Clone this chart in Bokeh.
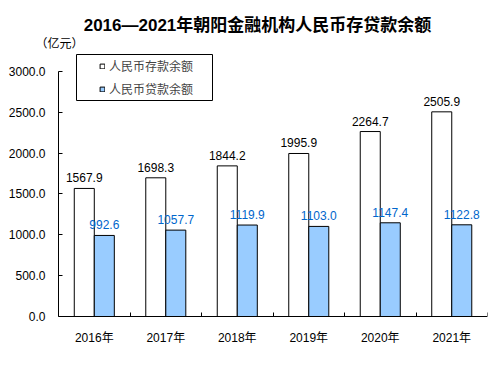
from bokeh.plotting import figure
from bokeh.models import (ColumnDataSource, FixedTicker, Range1d, LabelSet, Label,
                          Legend, LegendItem, BoxAnnotation)
from bokeh.core.properties import value
from bokeh.transform import dodge
from bokeh.embed import file_html
from bokeh.resources import INLINE

years = ["2016年", "2017年", "2018年", "2019年", "2020年", "2021年"]
deposits = [1567.9, 1698.3, 1844.2, 1995.9, 2264.7, 2505.9]
loans = [992.6, 1057.7, 1119.9, 1103.0, 1147.4, 1122.8]
y_ticks = [0, 500, 1000, 1500, 2000, 2500, 3000]

FONT = "Liberation Sans, Noto Sans CJK SC"

xpos = [i + 0.5 for i in range(len(years))]
src = ColumnDataSource(dict(
    x=xpos, dep=deposits, loan=loans,
    dep_lbl=[f"{v:.1f}" for v in deposits],
    loan_lbl=[f"{v:.1f}" for v in loans],
))

p = figure(width=503, height=370, output_backend="svg", toolbar_location=None,
           x_range=Range1d(-0.812, len(years)), y_range=Range1d(-661, 3869),
           min_border_left=0, min_border_right=16, min_border_top=0, min_border_bottom=0)
p.outline_line_color = None
p.grid.grid_line_color = None
p.background_fill_color = "white"

r_dep = p.vbar(x=dodge("x", -0.14, range=p.x_range), top="dep", bottom=0, width=0.28, source=src,
               fill_color="white", line_color="black", line_width=1)
r_loan = p.vbar(x=dodge("x", 0.14, range=p.x_range), top="loan", bottom=0, width=0.28, source=src,
                fill_color="#99CCFF", line_color="black", line_width=1)

p.add_layout(LabelSet(x=dodge("x", -0.14, range=p.x_range), y="dep", text="dep_lbl", source=src,
                      text_align="center", text_baseline="bottom", y_offset=6,
                      text_font=value(FONT), text_font_size=value("12px"), text_color="black"))
p.add_layout(LabelSet(x=dodge("x", 0.14, range=p.x_range), y="loan", text="loan_lbl", source=src,
                      text_align="center", text_baseline="bottom", y_offset=6,
                      text_font=value(FONT), text_font_size=value("12px"), text_color="#0066CC"))

# axes
xa = p.xaxis[0]
xa.fixed_location = 0
xa.ticker = FixedTicker(ticks=xpos, minor_ticks=list(range(1, len(years) + 1)))
xa.bounds = (0, len(years))
xa.major_label_overrides = {x: y for x, y in zip(xpos, years)}
xa.major_tick_line_color = None
xa.minor_tick_in = 4
xa.minor_tick_out = 0
xa.minor_tick_line_color = "black"
xa.axis_line_color = "black"
xa.major_label_standoff = 8
xa.major_label_text_font = FONT
xa.major_label_text_font_size = "12px"
xa.major_label_text_color = "black"

ya = p.yaxis[0]
ya.fixed_location = 0
ya.ticker = FixedTicker(ticks=y_ticks)
ya.bounds = (0, 3000)
ya.major_label_overrides = {t: f"{t:.1f}" for t in y_ticks}
ya.major_tick_in = 4
ya.major_tick_out = 0
ya.minor_tick_line_color = None
ya.axis_line_color = "black"
ya.major_tick_line_color = "black"
ya.major_label_standoff = 13
ya.major_label_text_font = FONT
ya.major_label_text_font_size = "12px"
ya.major_label_text_color = "black"

# legend frame + legend (screen units measured from the frame's bottom-left)
p.add_layout(BoxAnnotation(left=76, right=212, bottom=270, top=316,
                           left_units="screen", right_units="screen",
                           bottom_units="screen", top_units="screen",
                           fill_color="white", fill_alpha=1,
                           line_color="black", line_width=1, line_alpha=1))
legend = Legend(items=[LegendItem(label="人民币存款余额", renderers=[r_dep]),
                       LegendItem(label="人民币贷款余额", renderers=[r_loan])],
                location=(99, 273), orientation="vertical",
                glyph_width=6, glyph_height=6, label_height=16, label_standoff=4,
                spacing=6, padding=0, margin=0,
                label_text_font=FONT, label_text_font_size="12px",
                border_line_color=None, background_fill_alpha=0)
p.add_layout(legend, "center")

title = Label(x=257, y=345, x_units="screen", y_units="screen",
              text="2016—2021年朝阳金融机构人民币存贷款余额",
              text_align="center", text_baseline="middle", text_font=FONT,
              text_font_size="17px", text_font_style="bold", text_color="black")
p.add_layout(title)
unit = Label(x=35, y=327, x_units="screen", y_units="screen", text="（亿元）",
             text_align="left", text_baseline="middle", text_font=FONT,
             text_font_size="12px", text_color="black")
p.add_layout(unit)

open("out.html", "w").write(file_html(p, INLINE))
